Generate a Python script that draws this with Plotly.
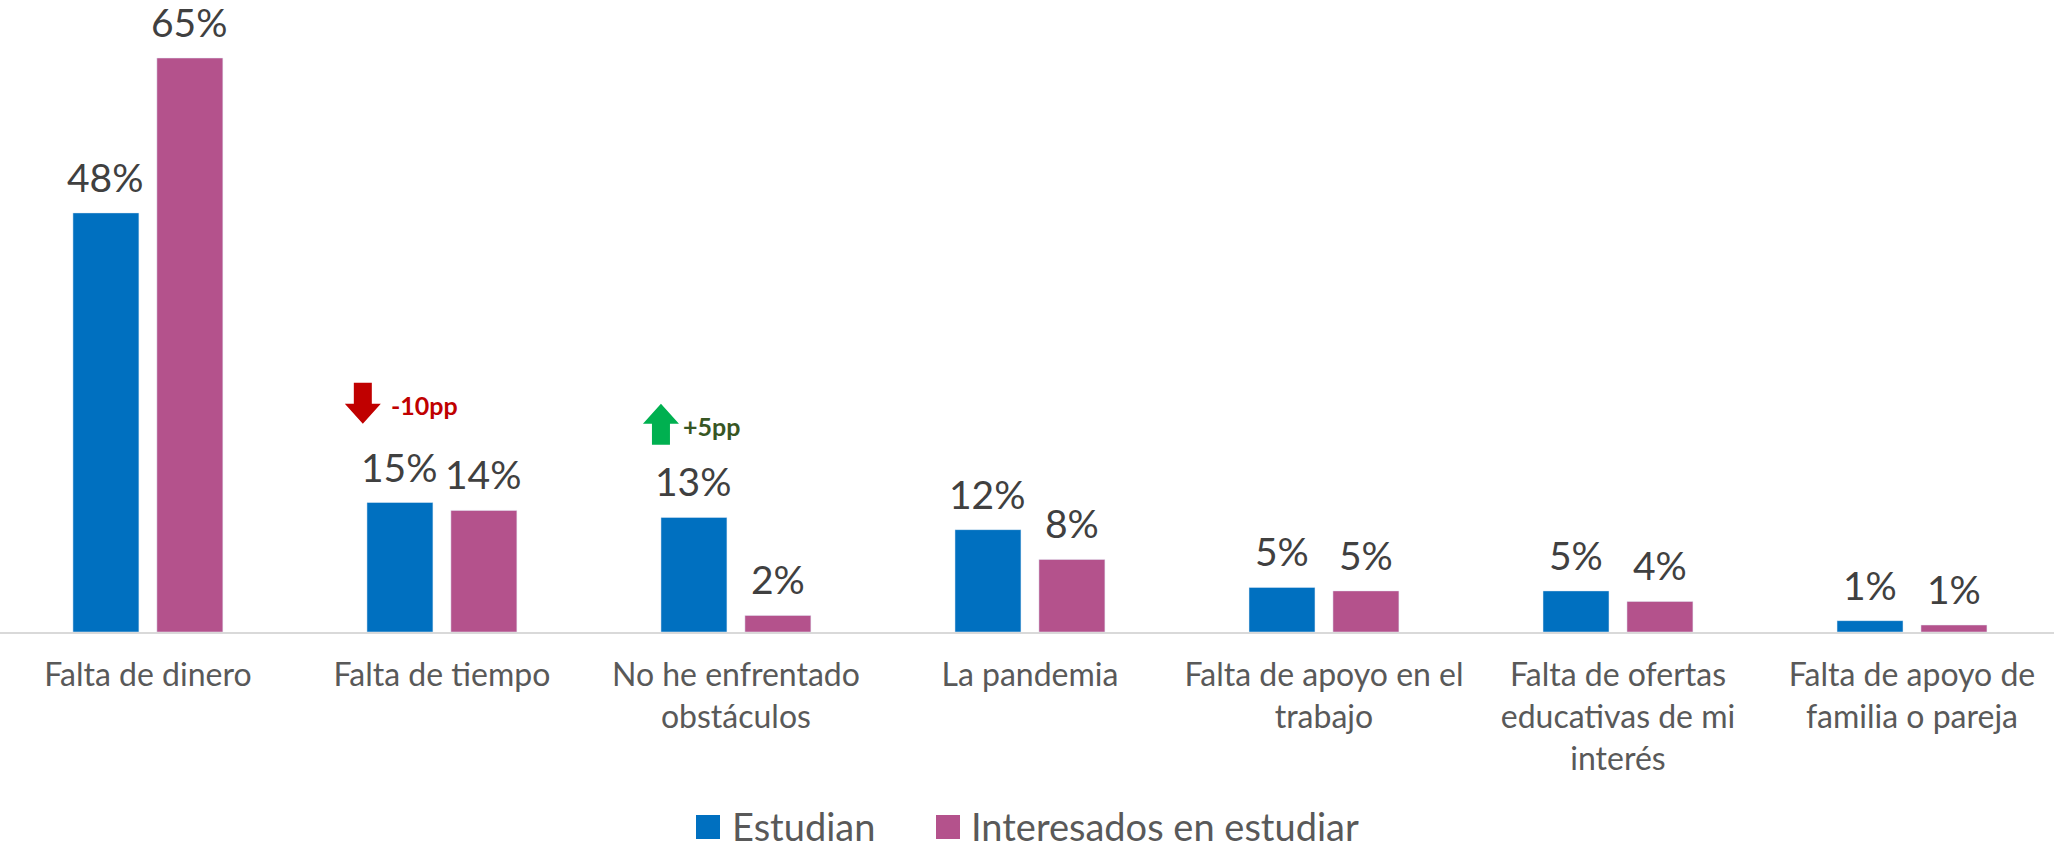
import plotly.graph_objects as go

# ── datos ─────────────────────────────────────────────────────────
categorias = [
    "Falta de dinero",
    "Falta de tiempo",
    "No he enfrentado<br>obstáculos",
    "La pandemia",
    "Falta de apoyo en el<br>trabajo",
    "Falta de ofertas<br>educativas de mi<br>interés",
    "Falta de apoyo de<br>familia o pareja",
]
estudian = [47.9, 14.8, 13.1, 11.7, 5.1, 4.7, 1.3]
estudian_txt = ["48%", "15%", "13%", "12%", "5%", "5%", "1%"]
interesados = [65.6, 13.9, 1.9, 8.3, 4.7, 3.5, 0.8]
interesados_txt = ["65%", "14%", "2%", "8%", "5%", "4%", "1%"]

AZUL = "#0070C0"
MAGENTA = "#B4528C"
FUENTE = "Lato, Open Sans, sans-serif"

W, H = 2054, 851
EJE_Y = 632          # posición del eje (px desde arriba)


def px_x(px):
    return px / W


def px_y(py):
    return (EJE_Y - py) / EJE_Y


fig = go.Figure()
fig.add_trace(go.Bar(x=categorias, y=estudian, name="Estudian", marker_color=AZUL))
fig.add_trace(go.Bar(x=categorias, y=interesados, name="Interesados en estudiar",
    marker_color=MAGENTA))

# etiquetas de valor
for serie, textos, dx in [(estudian, estudian_txt, -42), (interesados, interesados_txt, 42)]:
    for cat, v, t in zip(categorias, serie, textos):
        fig.add_annotation(x=cat, y=v, text=t, showarrow=False, xshift=dx,
            yanchor="bottom", yshift=11, font=dict(size=39, color="#404040"))

# flechas de variación (px relativos al ancla)
flecha_baja = "M -9,21 L 9,21 L 9,0 L 18,0 L 0,-20 L -18,0 L -9,0 Z"
flecha_sube = "M -9,-20 L 9,-20 L 9,1 L 18,1 L 0,21 L -18,1 L -9,1 Z"
fig.add_shape(type="path", path=flecha_baja, xref="x", yref="y",
    xsizemode="pixel", ysizemode="pixel", xanchor=0.731, yanchor=26.1,
    fillcolor="#C00000", line_width=0)
fig.add_shape(type="path", path=flecha_sube, xref="x", yref="y",
    xsizemode="pixel", ysizemode="pixel", xanchor=1.745, yanchor=23.7,
    fillcolor="#00B050", line_width=0)
fig.add_annotation(x=0.820, y=25.9, text="<b>-10pp</b>", showarrow=False,
    xanchor="left", yanchor="middle", font=dict(size=25, color="#C00000"))
fig.add_annotation(x=1.813, y=23.5, text="<b>+5pp</b>", showarrow=False,
    xanchor="left", yanchor="middle", font=dict(size=25, color="#375623"))

# leyenda manual (cuadros grandes)
for x0, color, nombre, xt in [(696, AZUL, "Estudian", 730),
                               (936, MAGENTA, "Interesados en estudiar", 969)]:
    fig.add_shape(type="rect", xref="paper", yref="paper",
        x0=px_x(x0), x1=px_x(x0 + 24), y0=px_y(839), y1=px_y(815),
        fillcolor=color, line_width=0)
    fig.add_annotation(xref="paper", yref="paper", x=px_x(xt), y=px_y(826),
        text=nombre, showarrow=False, xanchor="left", yanchor="middle",
        font=dict(size=38, color="#595959"))

fig.update_layout(
    width=W, height=H,
    paper_bgcolor="white", plot_bgcolor="white",
    font=dict(family=FUENTE, color="#595959"),
    barmode="group", bargap=0.429, bargroupgap=0.214,
    showlegend=False,
    margin=dict(l=0, r=0, t=0, b=H - EJE_Y),
)
fig.update_xaxes(range=[-0.503, 6.483], showline=True, linecolor="#D9D9D9", linewidth=2,
    showgrid=False, ticks="", ticklabelstandoff=14,
    tickfont=dict(size=32, color="#595959"))
fig.update_yaxes(range=[0, EJE_Y / 8.75], visible=False, showgrid=False, zeroline=False)

# sin margen del body para que el lienzo ocupe toda la ventana
fig.write_html("out.html", config={"displayModeBar": False},
               post_script="document.body.style.margin='0';")
